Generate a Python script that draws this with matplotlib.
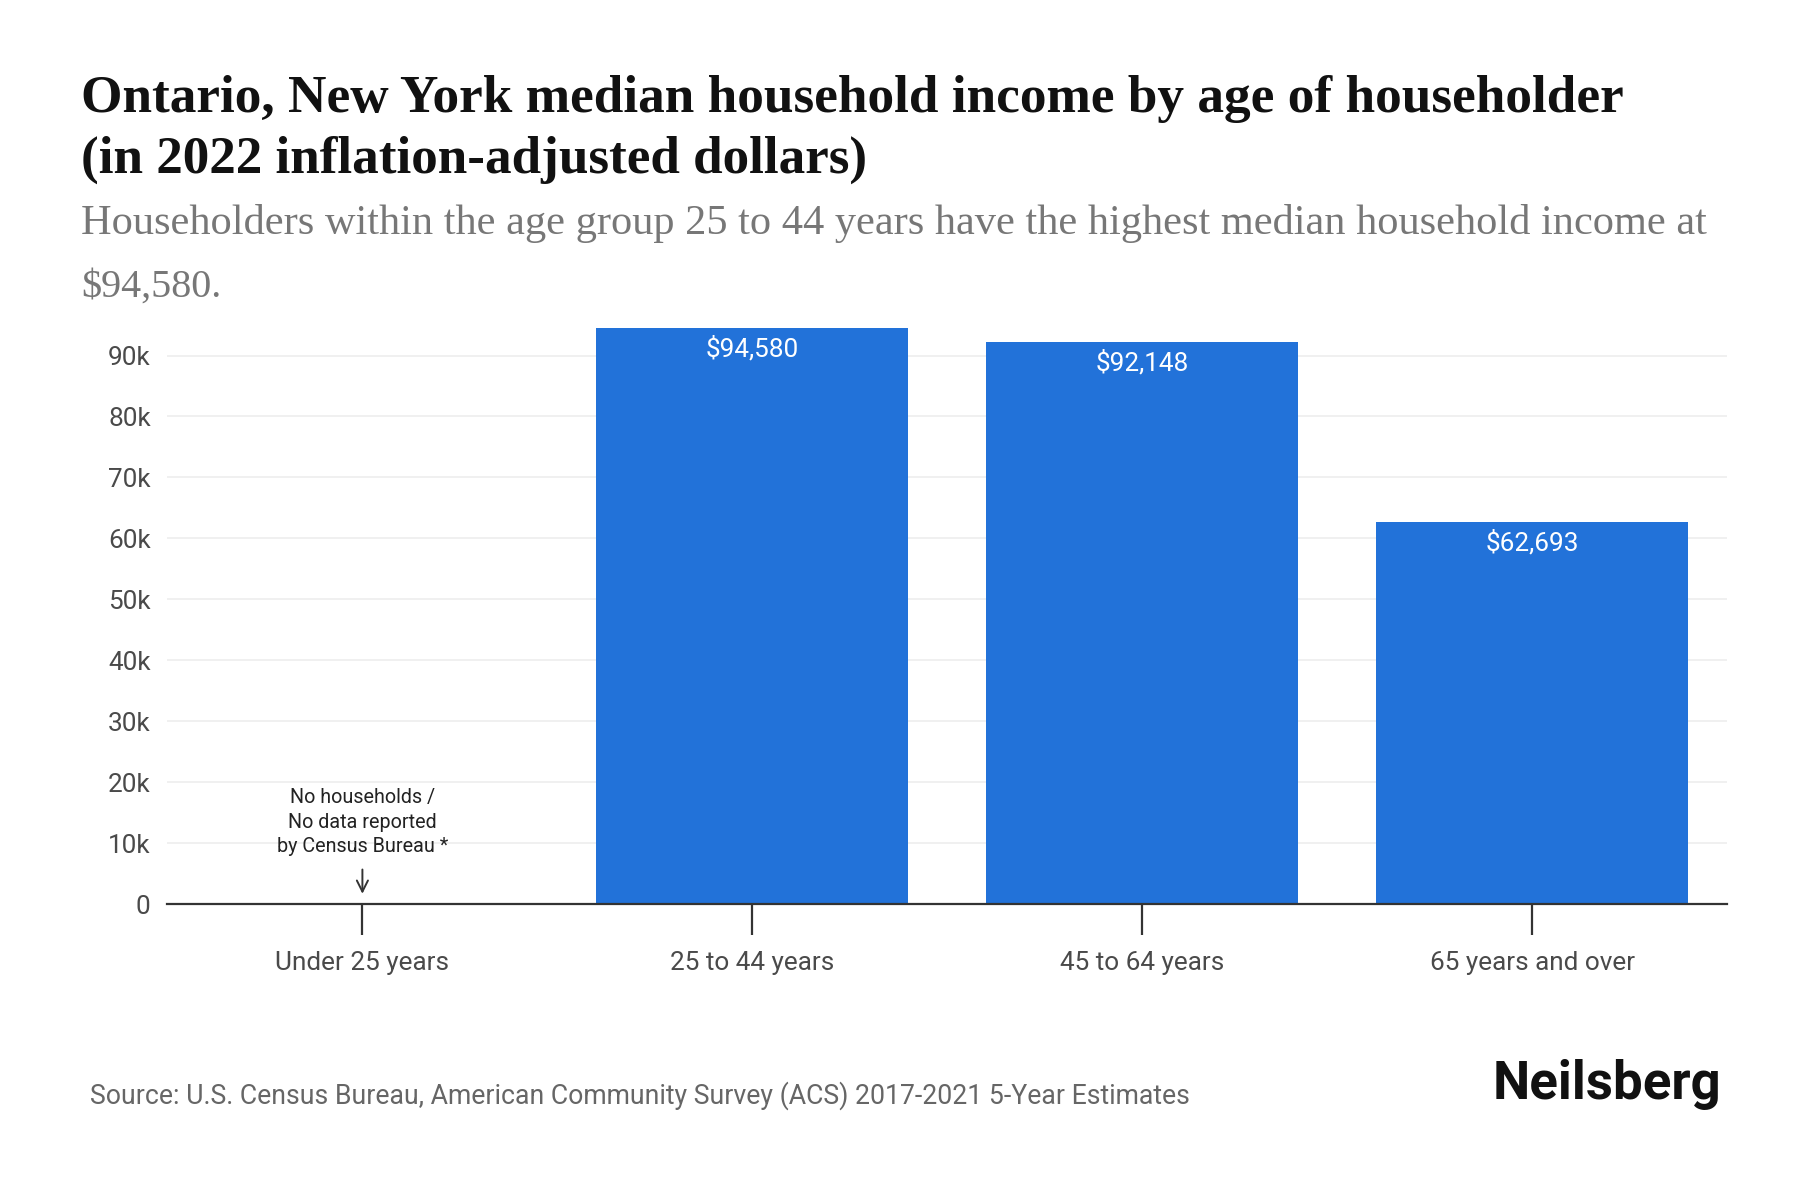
import matplotlib
matplotlib.use("Agg")
import matplotlib.pyplot as plt

categories = ["Under 25 years", "25 to 44 years", "45 to 64 years", "65 years and over"]
values = [None, 94580, 92148, 62693]
value_labels = ["", "$94,580", "$92,148", "$62,693"]
ytick_vals = [0, 10000, 20000, 30000, 40000, 50000, 60000, 70000, 80000, 90000]
ytick_labels = ["0", "10k", "20k", "30k", "40k", "50k", "60k", "70k", "80k", "90k"]

title_1 = "Ontario, New York median household income by age of householder"
title_2 = "(in 2022 inflation-adjusted dollars)"
subtitle_1 = "Householders within the age group 25 to 44 years have the highest median household income at"
subtitle_2 = "$94,580."
source = "Source: U.S. Census Bureau, American Community Survey (ACS) 2017-2021 5-Year Estimates"
no_data_note = "No households /\nNo data reported\nby Census Bureau *"

BAR_COLOR = "#2272d9"
W, H, DPI = 9, 6, 200

fig = plt.figure(figsize=(W, H), dpi=DPI)
ax = fig.add_axes([0.093, 0.2465, 0.8667, 0.4805])

xs = list(range(len(categories)))
for x, v, lab in zip(xs, values, value_labels):
    if v is None:
        continue
    ax.bar(x, v, width=0.8, color=BAR_COLOR, zorder=2)
    ax.text(x, v - 1300, lab, ha="center", va="top", color="white",
            fontsize=9.4, family="Roboto", zorder=3)

ax.set_xlim(-0.5, 3.5)
ax.set_ylim(0, 94580)
ax.set_yticks(ytick_vals)
ax.set_yticklabels(ytick_labels, family="Roboto", fontsize=9.4, color="#4a4a4a")
ax.set_xticks(xs)
ax.set_xticklabels(categories, family="Roboto", fontsize=9.4, color="#4a4a4a")
ax.tick_params(axis="y", length=0, pad=6)
ax.tick_params(axis="x", length=11, width=0.8, color="#333333", pad=6)
ax.grid(axis="y", color="#eeeeee", linewidth=0.6, zorder=0)
ax.set_axisbelow(True)
for s in ["top", "right", "left"]:
    ax.spines[s].set_visible(False)
ax.spines["bottom"].set_color("#333333")
ax.spines["bottom"].set_linewidth(0.8)
ax.spines["bottom"].set_zorder(4)

# No-data note for first category
ax.text(0, 19000, no_data_note, ha="center", va="top", fontsize=7.1,
        family="Roboto", color="#222222", linespacing=1.35)
ax.annotate("", xy=(0, 800), xytext=(0, 6600),
            arrowprops=dict(arrowstyle="->", color="#333333", lw=0.7))


def fit_text(x, y, s, target_frac, **kw):
    t = fig.text(x, y, s, **kw)
    fig.canvas.draw()
    bb = t.get_window_extent(renderer=fig.canvas.get_renderer())
    fs = t.get_fontsize() * (target_frac * W * DPI) / bb.width
    t.set_fontsize(fs)
    return t


fit_text(0.045, 0.907, title_1, 0.857, ha="left", va="baseline", fontsize=20,
         family="Liberation Serif", fontweight="bold", color="#111111")
fit_text(0.045, 0.856, title_2, 0.437, ha="left", va="baseline", fontsize=20,
         family="Liberation Serif", fontweight="bold", color="#111111")
fit_text(0.045, 0.805, subtitle_1, 0.903, ha="left", va="baseline", fontsize=13,
         family="Liberation Serif", color="#777777")
fit_text(0.045, 0.753, subtitle_2, 0.078, ha="left", va="baseline", fontsize=13,
         family="Liberation Serif", color="#777777")
fig.text(0.05, 0.087, source, ha="left", va="center", fontsize=9.6,
         family="Roboto", color="#666666")
fig.text(0.956, 0.096, "Neilsberg", ha="right", va="center", fontsize=19,
         family="Roboto", fontweight="bold", color="#111111")

fig.savefig("out.png", dpi=DPI, facecolor="white")
